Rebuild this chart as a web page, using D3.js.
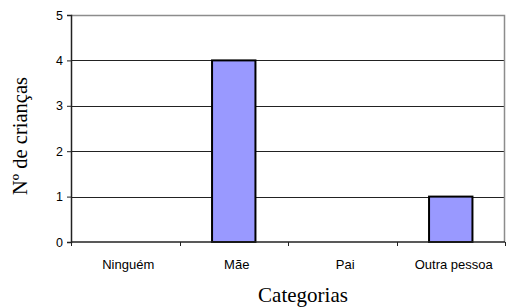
<!DOCTYPE html>
<html>
<head>
<meta charset="utf-8">
<script src="https://cdn.jsdelivr.net/npm/d3@7"></script>
<style>
  body { margin: 0; background: #fff; }
</style>
</head>
<body>
<div id="chart"></div>
<script>
let categories = ['Ninguém', 'Mãe', 'Pai', 'Outra pessoa'];
let counts = [0, 4, 0, 1];
let yTicks = [0, 1, 2, 3, 4, 5];

let margin = { top: 15, right: 5, bottom: 66, left: 71 },
  width = 510 - margin.left - margin.right,
  height = 308 - margin.top - margin.bottom;

let svg = d3.select('#chart').
append('svg').
attr('width', 510).
attr('height', 308);

let g = svg.append('g').
attr('transform', 'translate(' + margin.left + ',' + margin.top + ')');

let x = d3.scaleBand().
domain(categories).
range([0, width]).
paddingInner(0.6).
paddingOuter(0.3);

let y = d3.scaleLinear().
domain([0, 5]).
range([height, 0]);

// gridlines
g.selectAll('.grid').
data(yTicks.filter(d => d > 0 && d < 5)).
enter().
append('line').
attr('x1', 0).
attr('x2', width).
attr('y1', d => Math.round(y(d)) + 0.5).
attr('y2', d => Math.round(y(d)) + 0.5).
attr('stroke', '#222').
attr('stroke-width', 1);

// plot border (top and right)
g.append('path').
attr('d', 'M0,0.5H' + (width - 0.5) + 'V' + height).
attr('fill', 'none').
attr('stroke', '#8c8c8c').
attr('stroke-width', 1.5);

// bars
g.selectAll('.bar').
data(counts).
enter().
append('rect').
attr('x', (d, i) => x(categories[i])).
attr('y', d => y(d)).
attr('width', x.bandwidth()).
attr('height', d => height - y(d)).
attr('fill', '#9999ff').
attr('stroke', '#000').
attr('stroke-width', 2).
style('display', d => d > 0 ? null : 'none');

// y axis
let yAxis = g.append('g').
call(d3.axisLeft(y).tickValues(yTicks).tickSize(4).tickPadding(4).tickFormat(d3.format('d')));
yAxis.select('.domain').attr('stroke', '#222').attr('stroke-width', 1.5);
yAxis.selectAll('.tick line').attr('stroke', '#222');
yAxis.selectAll('text').
style('font-family', 'Liberation Sans, Arial, sans-serif').
style('font-size', '12.5px').
attr('fill', '#000');

// x axis
let xBoundaries = d3.range(categories.length + 1).map(i => i * width / categories.length);
let xAxisG = g.append('g').
attr('transform', 'translate(0,' + height + ')');
xAxisG.append('line').
attr('x1', 0).
attr('x2', width).
attr('y1', 0).
attr('y2', 0).
attr('stroke', '#222').
attr('stroke-width', 1.5);
xAxisG.selectAll('.xtick').
data(xBoundaries).
enter().
append('line').
attr('x1', d => Math.round(d) + 0.5).
attr('x2', d => Math.round(d) + 0.5).
attr('y1', 0).
attr('y2', 4).
attr('stroke', '#222');
xAxisG.selectAll('.xlabel').
data(categories).
enter().
append('text').
attr('x', d => x(d) + x.bandwidth() / 2 + 3).
attr('y', 27).
attr('text-anchor', 'middle').
style('font-family', 'Liberation Sans, Arial, sans-serif').
style('font-size', '13px').
text(d => d);

// axis titles
svg.append('text').
attr('x', margin.left + width / 2 + 15).
attr('y', 302).
attr('text-anchor', 'middle').
style('font-family', 'Liberation Serif, Times New Roman, serif').
style('font-size', '21px').
text('Categorias');

svg.append('text').
attr('transform', 'translate(27,136) rotate(-90)').
attr('text-anchor', 'middle').
style('font-family', 'Liberation Serif, Times New Roman, serif').
style('font-size', '20.5px').
text('Nº de crianças');
</script>
</body>
</html>
